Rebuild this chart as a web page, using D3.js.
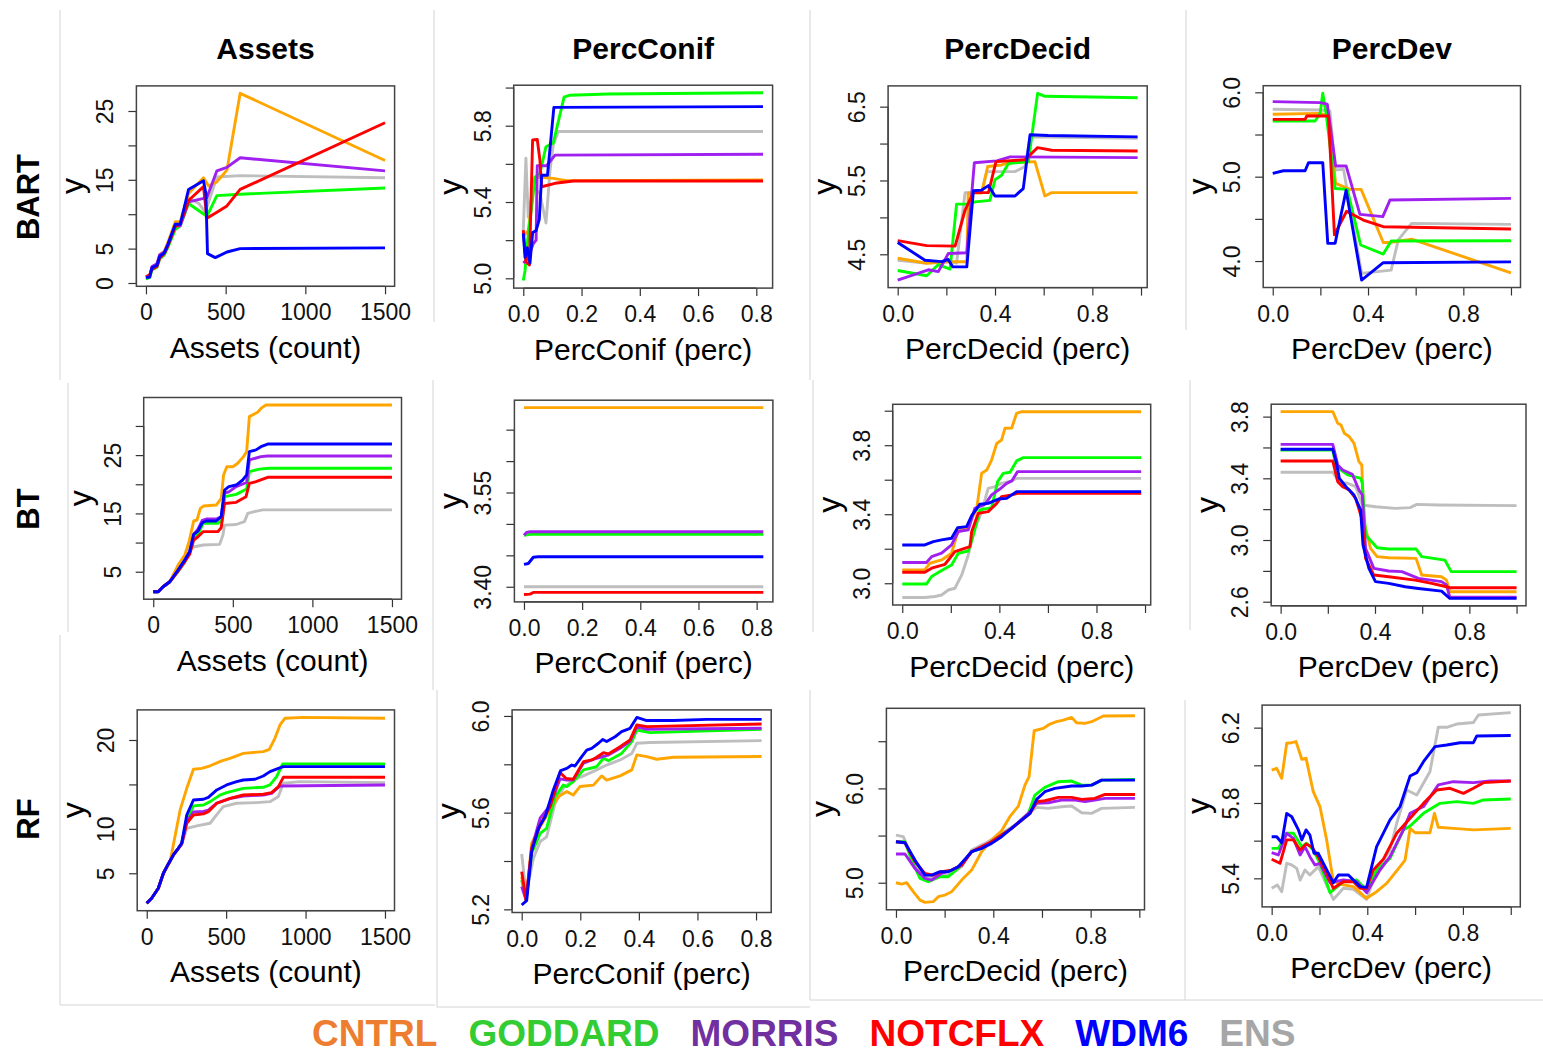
<!DOCTYPE html>
<html>
<head>
<meta charset="utf-8">
<script src="https://cdn.jsdelivr.net/npm/d3@7"></script>
<style>
body { margin: 0; background: #fff; }
svg { display: block; }
text { font-family: "Liberation Sans", Arial, sans-serif; }
</style>
</head>
<body>
<svg width="1543" height="1053"></svg>
<script>
// models, in legend order
var models = ["CNTRL", "GODDARD", "MORRIS", "NOTCFLX", "WDM6", "ENS"];
var lineColors = ["#FFA500", "#00FF00", "#A020F0", "#FF0000", "#0000FF", "#BEBEBE"];
var legendColors = ["#ED7D31", "#33CC33", "#7030A0", "#FF0000", "#0000FF", "#A6A6A6"];
var drawOrder = [5, 0, 1, 2, 3, 4];

var rowNames = ["BART", "BT", "RF"];
var varNames = ["Assets", "PercConif", "PercDecid", "PercDev"];
var xTitles = ["Assets (count)", "PercConif (perc)", "PercDecid (perc)", "PercDev (perc)"];

// x ticks per variable
var xTicks = [[0, 500, 1000, 1500], [0, 0.2, 0.4, 0.6, 0.8], [0, 0.2, 0.4, 0.6, 0.8, 1], [0, 0.2, 0.4, 0.6, 0.8, 1]];
var xTickLabels = [["0", "500", "1000", "1500"], ["0.0", "0.2", "0.4", "0.6", "0.8"],
    ["0.0", "", "0.4", "", "0.8", ""], ["0.0", "", "0.4", "", "0.8", ""]];

// y ticks per panel (row-major)
var yTicks = [
    [0, 5, 10, 15, 20, 25], [5.0, 5.2, 5.4, 5.6, 5.8, 6.0], [4.5, 5.0, 5.5, 6.0, 6.5], [4.0, 4.5, 5.0, 5.5, 6.0],
    [5, 10, 15, 20, 25, 30], [3.40, 3.45, 3.50, 3.55, 3.60, 3.65], [3.0, 3.2, 3.4, 3.6, 3.8, 4.0], [2.6, 2.8, 3.0, 3.2, 3.4, 3.6, 3.8],
    [5, 10, 15, 20], [5.2, 5.4, 5.6, 5.8, 6.0], [5.0, 5.5, 6.0, 6.5], [5.4, 5.6, 5.8, 6.0, 6.2]
];
var yTickLabels = [
    ["0", "5", "", "15", "", "25"], ["5.0", "", "5.4", "", "5.8", ""], ["4.5", "", "5.5", "", "6.5"], ["4.0", "", "5.0", "", "6.0"],
    ["5", "", "15", "", "25", ""], ["3.40", "", "", "3.55", "", ""], ["3.0", "", "3.4", "", "3.8", ""], ["2.6", "", "3.0", "", "3.4", "", "3.8"],
    ["5", "10", "", "20"], ["5.2", "", "5.6", "", "6.0"], ["5.0", "", "6.0", ""], ["5.4", "", "5.8", "", "6.2"]
];

// ---- partial dependence curves, [x, y]; series in model order ----
var bartAssets = [
    [[0,0.8],[23,1.0],[38,2.3],[69,2.7],[86,4.1],[115,4.6],[136,5.8],[184,8.9],[215,8.9],[267,13.0],[361,15.3],[393,14.1],[445,14.7],[508,16.4],[591,27.57],[1500,17.8]],
    [[0,0.6],[23,0.8],[38,1.9],[69,2.3],[86,3.5],[115,4.1],[136,5.1],[184,7.8],[215,8.3],[267,11.55],[382,9.7],[445,12.7],[591,12.9],[1500,13.8]],
    [[0,0.9],[23,1.0],[38,2.4],[69,2.8],[86,4.1],[115,4.5],[136,5.6],[184,8.3],[215,8.3],[267,11.8],[382,12.4],[445,16.3],[508,16.8],[591,18.2],[1500,16.3]],
    [[0,0.9],[23,1.2],[38,2.0],[69,2.4],[86,3.6],[115,4.3],[136,5.3],[184,8.2],[215,8.6],[267,12.0],[361,14.0],[382,9.4],[445,10.3],[508,11.2],[591,13.6],[1500,23.3]],
    [[0,0.78],[23,0.87],[38,2.23],[69,2.57],[86,3.88],[115,4.37],[136,5.49],[184,8.54],[215,8.54],[267,13.59],[361,14.85],[376,13.0],[386,4.27],[435,3.69],[508,4.51],[591,5.0],[1500,5.1]],
    [[0,0.6],[23,0.8],[38,2.1],[69,2.5],[86,3.8],[115,4.3],[136,5.4],[184,8.4],[215,8.5],[267,12.3],[330,11.6],[372,10.3],[445,15.4],[591,15.6],[1500,15.3]]
];
var bartConif = [
    [[0,5.22],[0.017,5.25],[0.04,5.53],[0.06,5.53],[0.103,5.524],[0.149,5.512],[0.823,5.515]],
    [[0,4.988],[0.006,5.04],[0.015,5.2],[0.029,5.375],[0.04,5.53],[0.057,5.55],[0.078,5.69],[0.103,5.71],[0.14,5.95],[0.16,5.96],[0.29,5.966],[0.823,5.973]],
    [[0,5.08],[0.014,5.10],[0.034,5.18],[0.044,5.20],[0.048,5.59],[0.08,5.59],[0.109,5.646],[0.823,5.65]],
    [[0,5.253],[0.009,5.087],[0.021,5.07],[0.032,5.725],[0.048,5.728],[0.057,5.62],[0.063,5.48],[0.109,5.498],[0.172,5.51],[0.823,5.51]],
    [[0,5.236],[0.006,5.11],[0.014,5.16],[0.023,5.08],[0.032,5.24],[0.044,5.25],[0.055,5.31],[0.063,5.54],[0.083,5.54],[0.105,5.896],[0.823,5.90]],
    [[0,5.25],[0.009,5.63],[0.017,5.32],[0.034,5.48],[0.057,5.445],[0.078,5.29],[0.092,5.57],[0.103,5.70],[0.12,5.77],[0.823,5.77]]
];
var bartDecid = [
    [[0,4.446],[0.119,4.378],[0.222,4.40],[0.284,4.40],[0.29,5.33],[0.345,5.33],[0.37,5.69],[0.427,5.71],[0.455,5.74],[0.564,5.755],[0.605,5.29],[0.633,5.335],[0.986,5.335]],
    [[0,4.28],[0.119,4.21],[0.167,4.36],[0.215,4.30],[0.242,5.18],[0.29,5.18],[0.318,5.21],[0.379,5.23],[0.4,5.51],[0.427,5.57],[0.455,5.73],[0.537,5.755],[0.575,6.68],[0.605,6.64],[0.986,6.62]],
    [[0,4.15],[0.126,4.29],[0.167,4.265],[0.208,4.51],[0.284,4.52],[0.315,5.74],[0.407,5.765],[0.462,5.82],[0.986,5.81]],
    [[0,4.685],[0.119,4.617],[0.236,4.61],[0.277,5.10],[0.311,5.335],[0.373,5.335],[0.404,5.755],[0.523,5.78],[0.575,5.945],[0.633,5.91],[0.986,5.90]],
    [[0,4.66],[0.112,4.42],[0.181,4.40],[0.208,4.43],[0.226,4.33],[0.284,4.33],[0.311,5.36],[0.345,5.37],[0.373,5.43],[0.4,5.29],[0.482,5.29],[0.516,5.39],[0.544,6.12],[0.619,6.11],[0.986,6.09]],
    [[0,4.42],[0.112,4.38],[0.222,4.40],[0.242,4.38],[0.277,5.335],[0.345,5.335],[0.366,5.62],[0.482,5.62],[0.523,5.69],[0.544,6.09],[0.986,6.07]]
];
var bartDev = [
    [[0,5.74],[0.199,5.75],[0.234,5.72],[0.264,4.92],[0.324,4.85],[0.371,4.85],[0.464,4.22],[0.492,4.22],[0.583,4.26],[1,3.86]],
    [[0,5.66],[0.178,5.66],[0.199,5.75],[0.21,5.99],[0.224,5.75],[0.262,4.86],[0.313,4.85],[0.369,4.19],[0.464,4.083],[0.497,4.237],[1,4.24]],
    [[0,5.89],[0.199,5.878],[0.229,5.86],[0.264,5.127],[0.308,5.127],[0.366,4.553],[0.462,4.526],[0.492,4.723],[1,4.743]],
    [[0,5.68],[0.136,5.68],[0.143,5.72],[0.234,5.72],[0.259,4.31],[0.31,4.59],[0.38,4.486],[0.464,4.407],[1,4.38]],
    [[0,5.04],[0.045,5.07],[0.136,5.07],[0.15,5.166],[0.21,5.166],[0.231,4.21],[0.262,4.21],[0.308,4.84],[0.373,3.775],[0.464,3.98],[1,3.99]],
    [[0,5.80],[0.199,5.79],[0.24,5.78],[0.262,5.08],[0.297,5.087],[0.373,3.854],[0.497,3.893],[0.527,4.25],[0.583,4.447],[1,4.435]]
];
var btAssets = [
    [[0,1.6],[31,1.6],[62,2.45],[104,3.3],[156,6.14],[198,7.86],[225,10.15],[254,13.7],[275,13.87],[296,15.87],[317,16.27],[396,16.44],[427,17.59],[442,21.6],[462,23.0],[500,23.0],[531,23.6],[567,24.74],[587,25.6],[604,31.6],[656,32.35],[683,33.15],[708,33.6],[1500,33.6]],
    [[0,1.57],[31,1.57],[62,2.43],[104,3.28],[156,5.1],[198,6.8],[229,8.2],[254,10.7],[281,11.4],[313,13.3],[406,13.3],[433,13.87],[450,17.87],[521,18.27],[587,19.2],[604,22.16],[667,22.6],[729,22.74],[1500,22.74]],
    [[0,1.57],[31,1.57],[62,2.43],[104,3.28],[156,5.29],[198,7.0],[229,8.43],[254,11.4],[281,12.3],[308,13.8],[333,14.04],[396,14.04],[427,14.44],[448,18.5],[475,18.7],[521,19.6],[587,20.3],[604,24.17],[677,24.74],[719,24.85],[1500,24.85]],
    [[0,1.57],[31,1.57],[62,2.43],[104,3.28],[156,5.1],[198,6.7],[229,8.0],[254,10.43],[281,11.0],[313,11.87],[406,11.87],[427,12.55],[448,16.7],[521,16.9],[583,17.87],[604,20.16],[646,20.45],[719,21.2],[1500,21.2]],
    [[0,1.57],[31,1.57],[62,2.43],[104,3.28],[156,5.29],[198,7.0],[229,8.43],[254,11.4],[281,11.98],[308,13.4],[333,13.7],[396,13.7],[427,14.44],[448,19.0],[475,19.6],[521,19.87],[562,20.73],[587,21.6],[604,25.6],[646,25.9],[677,26.45],[719,26.9],[1500,26.9]],
    [[0,1.57],[31,1.57],[62,2.43],[104,3.28],[156,5.0],[198,6.6],[229,9.0],[260,9.29],[313,9.58],[417,9.69],[438,11.3],[448,13.0],[521,13.1],[573,13.6],[594,15.0],[635,15.3],[688,15.6],[1500,15.6]]
];
var btConif = [
    [[0,3.685],[0.823,3.685]],
    [[0,3.482],[0.021,3.4833],[0.823,3.4833]],
    [[0,3.482],[0.009,3.4865],[0.021,3.4876],[0.823,3.4876]],
    [[0,3.3878],[0.021,3.3883],[0.032,3.391],[0.823,3.391]],
    [[0,3.4356],[0.015,3.437],[0.032,3.447],[0.049,3.4478],[0.823,3.4478]],
    [[0,3.40],[0.823,3.40]]
];
var btDecid = [
    [[0,3.077],[0.093,3.077],[0.114,3.116],[0.162,3.135],[0.203,3.174],[0.231,3.309],[0.265,3.322],[0.286,3.376],[0.306,3.425],[0.327,3.637],[0.348,3.656],[0.368,3.714],[0.389,3.81],[0.409,3.83],[0.423,3.898],[0.451,3.90],[0.471,3.985],[0.492,3.994],[0.984,3.994]],
    [[0,2.996],[0.1,2.996],[0.121,3.039],[0.155,3.068],[0.203,3.106],[0.231,3.174],[0.272,3.187],[0.293,3.28],[0.32,3.425],[0.368,3.438],[0.393,3.589],[0.416,3.637],[0.444,3.643],[0.471,3.709],[0.499,3.728],[0.984,3.728]],
    [[0,3.12],[0.1,3.12],[0.121,3.154],[0.162,3.174],[0.203,3.222],[0.231,3.30],[0.272,3.309],[0.299,3.434],[0.341,3.458],[0.368,3.512],[0.402,3.546],[0.43,3.579],[0.451,3.593],[0.475,3.647],[0.984,3.647]],
    [[0,3.064],[0.093,3.064],[0.121,3.087],[0.176,3.11],[0.217,3.183],[0.251,3.199],[0.279,3.212],[0.286,3.30],[0.313,3.405],[0.354,3.415],[0.389,3.463],[0.409,3.502],[0.451,3.512],[0.475,3.521],[0.984,3.521]],
    [[0,3.222],[0.093,3.222],[0.128,3.241],[0.162,3.251],[0.203,3.261],[0.228,3.322],[0.265,3.328],[0.286,3.392],[0.32,3.458],[0.354,3.463],[0.396,3.488],[0.43,3.492],[0.451,3.512],[0.471,3.531],[0.984,3.531]],
    [[0,2.917],[0.093,2.917],[0.135,2.923],[0.162,2.932],[0.19,2.961],[0.217,2.971],[0.245,3.048],[0.272,3.164],[0.299,3.318],[0.327,3.415],[0.354,3.55],[0.382,3.56],[0.409,3.579],[0.451,3.593],[0.471,3.608],[0.984,3.608]]
];
var btDev = [
    [[0,3.832],[0.221,3.832],[0.242,3.757],[0.256,3.746],[0.27,3.692],[0.291,3.67],[0.311,3.627],[0.332,3.508],[0.344,3.486],[0.353,3.119],[0.381,2.946],[0.409,2.892],[0.458,2.885],[0.574,2.881],[0.598,2.773],[0.682,2.762],[0.703,2.74],[0.717,2.665],[1,2.665]],
    [[0,3.584],[0.221,3.584],[0.235,3.476],[0.256,3.454],[0.284,3.422],[0.34,3.40],[0.346,3.368],[0.36,3.032],[0.409,2.95],[0.458,2.942],[0.574,2.942],[0.598,2.892],[0.696,2.87],[0.723,2.795],[1,2.795]],
    [[0,3.62],[0.221,3.62],[0.242,3.486],[0.263,3.454],[0.304,3.426],[0.332,3.324],[0.346,3.292],[0.36,2.946],[0.395,2.816],[0.458,2.799],[0.514,2.795],[0.584,2.751],[0.682,2.73],[0.703,2.708],[0.717,2.63],[1,2.63]],
    [[0,3.512],[0.221,3.512],[0.242,3.378],[0.263,3.346],[0.291,3.324],[0.318,3.27],[0.344,3.14],[0.36,2.881],[0.395,2.773],[0.458,2.762],[0.57,2.74],[0.64,2.719],[0.703,2.697],[0.717,2.691],[1,2.691]],
    [[0,3.588],[0.221,3.588],[0.235,3.508],[0.249,3.40],[0.277,3.346],[0.311,3.292],[0.339,3.195],[0.349,2.968],[0.374,2.816],[0.402,2.73],[0.458,2.719],[0.528,2.697],[0.584,2.686],[0.682,2.669],[0.717,2.622],[1,2.622]],
    [[0,3.439],[0.221,3.439],[0.249,3.374],[0.284,3.368],[0.318,3.346],[0.346,3.227],[0.402,3.216],[0.486,3.205],[0.549,3.21],[0.577,3.231],[0.668,3.227],[1,3.223]]
];
var rfAssets = [
    [[0,1.625],[31,2.19],[73,3.31],[105,5.0],[147,6.3],[210,12.1],[252,14.56],[294,16.7],[346,16.8],[399,17.1],[472,17.64],[524,17.94],[608,18.5],[734,18.69],[772,18.95],[807,20.19],[839,21.69],[870,22.44],[986,22.55],[1500,22.44]],
    [[0,1.625],[31,2.19],[73,3.31],[105,5.0],[136,6.05],[168,7.06],[199,7.81],[220,8.38],[252,11.0],[294,12.58],[357,12.69],[399,13.06],[461,13.8],[503,14.08],[608,14.56],[734,14.68],[776,14.94],[818,15.88],[856,17.3],[1500,17.3]],
    [[0,1.625],[31,2.19],[73,3.31],[105,5.0],[136,6.05],[168,7.06],[199,7.81],[220,8.3],[252,10.8],[294,11.9],[357,11.95],[388,12.1],[441,12.9],[524,13.4],[608,13.7],[734,13.8],[786,14.0],[839,14.83],[1500,14.94]],
    [[0,1.625],[31,2.19],[73,3.31],[105,5.0],[136,6.05],[168,7.06],[199,7.81],[220,8.3],[252,10.63],[294,11.56],[357,11.68],[388,11.94],[441,12.88],[524,13.44],[608,13.81],[734,13.89],[786,14.08],[829,14.75],[860,15.8],[1500,15.8]],
    [[0,1.625],[31,2.19],[73,3.31],[105,5.0],[136,6.05],[168,7.06],[199,7.81],[220,8.38],[252,11.56],[294,13.25],[357,13.33],[388,13.55],[441,14.38],[503,14.94],[566,15.31],[608,15.5],[682,15.58],[734,15.95],[776,16.44],[829,16.81],[860,17.0],[1500,17.0]],
    [[0,1.625],[31,2.19],[73,3.31],[105,5.0],[136,6.05],[168,7.06],[199,7.81],[220,8.2],[252,10.06],[315,10.33],[399,10.63],[441,11.6],[482,12.5],[566,12.88],[692,12.95],[776,13.06],[829,13.63],[860,15.13],[965,15.31],[1500,15.2]]
];
var rfConif = [
    [[0,5.335],[0.015,5.239],[0.034,5.473],[0.063,5.542],[0.097,5.611],[0.125,5.666],[0.154,5.687],[0.176,5.673],[0.199,5.708],[0.245,5.714],[0.273,5.752],[0.29,5.735],[0.336,5.752],[0.376,5.777],[0.393,5.839],[0.427,5.832],[0.461,5.821],[0.518,5.829],[0.819,5.832]],
    [[0,5.321],[0.015,5.239],[0.034,5.432],[0.063,5.514],[0.085,5.535],[0.114,5.666],[0.142,5.714],[0.154,5.708],[0.176,5.728],[0.211,5.777],[0.256,5.79],[0.279,5.825],[0.296,5.815],[0.341,5.845],[0.376,5.894],[0.393,5.942],[0.438,5.931],[0.819,5.945]],
    [[0,5.294],[0.015,5.239],[0.034,5.452],[0.063,5.577],[0.097,5.63],[0.131,5.74],[0.154,5.735],[0.176,5.735],[0.211,5.805],[0.256,5.825],[0.296,5.838],[0.336,5.866],[0.37,5.895],[0.393,5.955],[0.427,5.945],[0.819,5.949]],
    [[0,5.356],[0.015,5.239],[0.034,5.452],[0.063,5.549],[0.097,5.625],[0.131,5.766],[0.151,5.742],[0.176,5.738],[0.211,5.811],[0.239,5.818],[0.256,5.829],[0.279,5.848],[0.296,5.843],[0.336,5.873],[0.37,5.901],[0.393,5.963],[0.427,5.956],[0.819,5.967]],
    [[0,5.218],[0.017,5.236],[0.034,5.439],[0.057,5.535],[0.08,5.583],[0.108,5.694],[0.133,5.774],[0.154,5.783],[0.171,5.797],[0.182,5.793],[0.205,5.832],[0.222,5.859],[0.239,5.866],[0.262,5.887],[0.277,5.903],[0.29,5.894],[0.319,5.914],[0.341,5.935],[0.37,5.949],[0.393,5.994],[0.427,5.981],[0.518,5.981],[0.632,5.986],[0.819,5.986]],
    [[0,5.429],[0.015,5.266],[0.04,5.411],[0.063,5.48],[0.085,5.50],[0.114,5.639],[0.142,5.701],[0.176,5.735],[0.211,5.752],[0.256,5.777],[0.29,5.797],[0.336,5.818],[0.376,5.845],[0.393,5.887],[0.438,5.89],[0.819,5.898]]
];
var rfDecid = [
    [[0,5.0],[0.023,4.986],[0.044,5.0],[0.071,4.905],[0.099,4.816],[0.119,4.792],[0.153,4.799],[0.174,4.852],[0.201,4.869],[0.229,4.905],[0.27,5.028],[0.311,5.134],[0.352,5.329],[0.393,5.452],[0.434,5.551],[0.468,5.70],[0.503,5.813],[0.53,6.035],[0.547,6.124],[0.568,6.611],[0.605,6.636],[0.633,6.682],[0.66,6.707],[0.688,6.724],[0.722,6.753],[0.742,6.696],[0.777,6.689],[0.804,6.707],[0.852,6.767],[0.982,6.77]],
    [[0,5.435],[0.037,5.435],[0.064,5.24],[0.099,5.046],[0.133,5.011],[0.181,5.064],[0.215,5.064],[0.256,5.152],[0.311,5.329],[0.352,5.364],[0.393,5.435],[0.434,5.505],[0.475,5.576],[0.516,5.664],[0.544,5.735],[0.571,5.929],[0.612,6.011],[0.667,6.071],[0.722,6.078],[0.763,6.035],[0.804,6.035],[0.845,6.088],[0.982,6.095]],
    [[0,5.304],[0.037,5.304],[0.078,5.152],[0.119,5.046],[0.147,5.028],[0.188,5.099],[0.229,5.134],[0.27,5.187],[0.311,5.329],[0.393,5.435],[0.475,5.576],[0.544,5.735],[0.578,5.841],[0.626,5.848],[0.68,5.876],[0.736,5.876],[0.777,5.859],[0.817,5.876],[0.859,5.894],[0.982,5.894]],
    [[0,5.435],[0.037,5.424],[0.078,5.223],[0.119,5.099],[0.153,5.081],[0.188,5.117],[0.229,5.134],[0.27,5.187],[0.311,5.329],[0.393,5.435],[0.475,5.576],[0.551,5.735],[0.578,5.859],[0.612,5.869],[0.667,5.905],[0.722,5.905],[0.763,5.883],[0.817,5.894],[0.859,5.936],[0.982,5.936]],
    [[0,5.435],[0.037,5.424],[0.078,5.24],[0.119,5.081],[0.147,5.081],[0.181,5.117],[0.215,5.117],[0.256,5.17],[0.311,5.329],[0.352,5.364],[0.393,5.417],[0.434,5.488],[0.475,5.576],[0.516,5.664],[0.551,5.735],[0.578,5.883],[0.612,5.965],[0.653,6.0],[0.722,6.025],[0.763,6.025],[0.804,6.035],[0.845,6.088],[0.982,6.088]],
    [[0,5.505],[0.03,5.488],[0.078,5.205],[0.119,5.064],[0.16,5.064],[0.215,5.081],[0.27,5.17],[0.311,5.346],[0.366,5.417],[0.434,5.523],[0.489,5.611],[0.544,5.735],[0.578,5.799],[0.626,5.788],[0.68,5.806],[0.722,5.813],[0.763,5.742],[0.804,5.735],[0.845,5.788],[0.982,5.799]]
];
var rfDev = [
    [[0,5.975],[0.021,5.984],[0.042,5.931],[0.063,6.117],[0.084,6.12],[0.102,6.126],[0.126,6.032],[0.144,6.037],[0.174,5.86],[0.202,5.781],[0.23,5.604],[0.258,5.382],[0.3,5.365],[0.342,5.356],[0.397,5.294],[0.439,5.329],[0.481,5.373],[0.537,5.462],[0.558,5.497],[0.579,5.665],[0.6,5.642],[0.662,5.642],[0.681,5.745],[0.697,5.671],[0.76,5.665],[0.844,5.657],[1,5.665]],
    [[0,5.559],[0.028,5.559],[0.063,5.639],[0.091,5.639],[0.126,5.568],[0.146,5.586],[0.174,5.55],[0.202,5.48],[0.244,5.324],[0.3,5.382],[0.356,5.391],[0.397,5.338],[0.439,5.444],[0.495,5.506],[0.551,5.657],[0.579,5.678],[0.635,5.745],[0.704,5.798],[0.774,5.807],[0.844,5.798],[0.886,5.816],[1,5.821]],
    [[0,5.536],[0.028,5.524],[0.063,5.639],[0.091,5.612],[0.119,5.524],[0.139,5.568],[0.16,5.515],[0.181,5.471],[0.202,5.48],[0.244,5.377],[0.3,5.391],[0.356,5.382],[0.397,5.324],[0.453,5.444],[0.495,5.515],[0.551,5.657],[0.579,5.745],[0.635,5.781],[0.697,5.896],[0.76,5.913],[0.844,5.908],[0.914,5.917],[1,5.917]],
    [[0,5.501],[0.035,5.48],[0.063,5.604],[0.091,5.604],[0.119,5.55],[0.144,5.582],[0.167,5.568],[0.195,5.515],[0.23,5.427],[0.258,5.347],[0.3,5.382],[0.342,5.382],[0.37,5.347],[0.397,5.347],[0.425,5.444],[0.467,5.501],[0.523,5.639],[0.579,5.719],[0.635,5.798],[0.69,5.869],[0.746,5.878],[0.802,5.851],[0.844,5.878],[0.886,5.908],[1,5.917]],
    [[0,5.621],[0.021,5.621],[0.042,5.589],[0.063,5.745],[0.084,5.727],[0.112,5.657],[0.126,5.604],[0.144,5.657],[0.16,5.63],[0.177,5.533],[0.195,5.533],[0.216,5.48],[0.258,5.377],[0.279,5.418],[0.321,5.418],[0.342,5.391],[0.37,5.356],[0.397,5.352],[0.439,5.568],[0.495,5.71],[0.537,5.781],[0.579,5.943],[0.607,5.961],[0.635,6.019],[0.683,6.099],[0.732,6.108],[0.788,6.12],[0.844,6.12],[0.858,6.156],[1,6.158]],
    [[0,5.347],[0.024,5.365],[0.042,5.329],[0.063,5.48],[0.084,5.471],[0.105,5.453],[0.119,5.391],[0.139,5.444],[0.16,5.418],[0.195,5.462],[0.258,5.288],[0.3,5.347],[0.342,5.342],[0.397,5.288],[0.439,5.444],[0.495,5.55],[0.523,5.692],[0.565,5.869],[0.607,5.842],[0.662,5.966],[0.697,6.202],[0.732,6.202],[0.774,6.219],[0.844,6.227],[0.865,6.267],[1,6.28]]
];

var panelData = [bartAssets, bartConif, bartDecid, bartDev,
                 btAssets, btConif, btDecid, btDev,
                 rfAssets, rfConif, rfDecid, rfDev];

// plot boxes [left, top, right, bottom] for each panel (layout only)
var boxes = [
    [136.4, 85.9, 394.6, 286.3], [513.7, 85.2, 772.6, 288.1], [888.1, 85.9, 1147.2, 287.6], [1263.2, 85.7, 1520.5, 287.5],
    [143.7, 397.5, 401.5, 599.2], [514.4, 400.2, 772.9, 601.9], [892.7, 404.3, 1150.7, 605.0], [1271.2, 404.2, 1526.0, 605.8],
    [137.2, 709.9, 394.5, 910.7], [512.1, 709.9, 771.2, 912.5], [886.4, 708.3, 1144.5, 909.8], [1262.1, 705.1, 1520.3, 906.9]
];
var rowLabelY = [197, 509, 819];

var svg = d3.select("svg");

// faint frames of the pasted sub-figures
var frameLines = [
    [60, 10, 60, 380], [434, 10, 434, 322], [810, 10, 810, 380], [1186, 10, 1186, 330],
    [68, 383, 68, 632], [433, 380, 433, 690], [813, 380, 813, 632], [1190, 380, 1190, 630],
    [60, 635, 60, 1005], [437, 690, 437, 1007], [810, 690, 810, 1000], [1185, 700, 1185, 1000],
    [60, 1005, 435, 1005], [437, 1007, 810, 1007], [810, 1000, 1185, 1000], [1185, 1000, 1543, 1000]
];
svg.append("g").selectAll("line")
    .data(frameLines)
    .enter()
    .append("line")
    .attr("x1", d => d[0]).attr("y1", d => d[1])
    .attr("x2", d => d[2]).attr("y2", d => d[3])
    .attr("stroke", "#d4d4d4")
    .attr("stroke-width", 1);

function padded(ext) {
    var p = (ext[1] - ext[0]) * 0.04;
    return [ext[0] - p, ext[1] + p];
}

panelData.forEach(function (series, i) {
    var row = Math.floor(i / 4), col = i % 4;
    var b = boxes[i];
    var allPts = d3.merge(series);

    var x = d3.scaleLinear()
        .domain(padded(d3.extent(allPts, d => d[0])))
        .range([b[0], b[2]]);
    var y = d3.scaleLinear()
        .domain(padded(d3.extent(allPts, d => d[1])))
        .range([b[3], b[1]]);

    var g = svg.append("g");

    // x axis
    var xa = g.append("g")
        .attr("transform", "translate(0," + b[3] + ")")
        .call(d3.axisBottom(x)
            .tickValues(xTicks[col])
            .tickSize(8)
            .tickFormat((d, k) => xTickLabels[col][k]));
    xa.select(".domain").remove();
    xa.append("line")
        .attr("x1", x(xTicks[col][0])).attr("x2", x(xTicks[col][xTicks[col].length - 1]))
        .attr("stroke", "#333").attr("stroke-width", 1.2);
    xa.selectAll(".tick line").attr("stroke", "#333").attr("stroke-width", 1.2);
    xa.selectAll(".tick text")
        .attr("y", 26).attr("dy", "0.35em")
        .attr("fill", "#111")
        .style("font-size", "23px");

    // y axis
    var ya = g.append("g")
        .attr("transform", "translate(" + b[0] + ",0)")
        .call(d3.axisLeft(y)
            .tickValues(yTicks[i])
            .tickSize(8)
            .tickFormat((d, k) => yTickLabels[i][k]));
    ya.select(".domain").remove();
    ya.append("line")
        .attr("y1", y(yTicks[i][0])).attr("y2", y(yTicks[i][yTicks[i].length - 1]))
        .attr("stroke", "#333").attr("stroke-width", 1.2);
    ya.selectAll(".tick line").attr("stroke", "#333").attr("stroke-width", 1.2);
    ya.selectAll(".tick text")
        .attr("x", null).attr("dy", null)
        .attr("transform", "translate(-31,0) rotate(-90)")
        .attr("text-anchor", "middle")
        .attr("dominant-baseline", "central")
        .attr("fill", "#111")
        .style("font-size", "23px");

    // box
    g.append("rect")
        .attr("x", b[0]).attr("y", b[1])
        .attr("width", b[2] - b[0]).attr("height", b[3] - b[1])
        .attr("fill", "none")
        .attr("stroke", "#444")
        .attr("stroke-width", 1.5);

    // curves
    var line = d3.line()
        .x(d => x(d[0]))
        .y(d => y(d[1]));
    g.append("g")
        .selectAll("path")
        .data(drawOrder)
        .enter()
        .append("path")
        .attr("d", k => line(series[k]))
        .attr("fill", "none")
        .attr("stroke", k => lineColors[k])
        .attr("stroke-width", 2.9)
        .attr("stroke-linejoin", "round");

    // axis titles
    var cx = (b[0] + b[2]) / 2, cy = (b[1] + b[3]) / 2;
    g.append("text")
        .attr("x", cx).attr("y", b[3] + 61)
        .attr("text-anchor", "middle")
        .attr("dominant-baseline", "central")
        .style("font-size", "30px")
        .text(xTitles[col]);
    g.append("text")
        .attr("transform", "translate(" + (b[0] - 64) + "," + cy + ") rotate(-90)")
        .attr("text-anchor", "middle")
        .attr("dominant-baseline", "central")
        .style("font-size", "32px")
        .text("y");

    if (row === 0) {
        g.append("text")
            .attr("x", cx).attr("y", 48)
            .attr("text-anchor", "middle")
            .attr("dominant-baseline", "central")
            .style("font-size", "30px")
            .style("font-weight", "bold")
            .text(varNames[col]);
    }
});

// row labels
svg.append("g").selectAll("text")
    .data(rowNames)
    .enter()
    .append("text")
    .attr("transform", (d, k) => "translate(28," + rowLabelY[k] + ") rotate(-90)")
    .attr("text-anchor", "middle")
    .attr("dominant-baseline", "central")
    .style("font-size", "31px")
    .style("font-weight", "bold")
    .text(d => d);

// legend
var legend = svg.append("g");
var lx = 312;
models.forEach(function (m, k) {
    var t = legend.append("text")
        .attr("x", lx).attr("y", 1033)
        .attr("dominant-baseline", "central")
        .attr("fill", legendColors[k])
        .style("font-size", "37px")
        .style("font-weight", "bold")
        .text(m);
    lx += t.node().getComputedTextLength() + 31;
});
</script>
</body>
</html>
